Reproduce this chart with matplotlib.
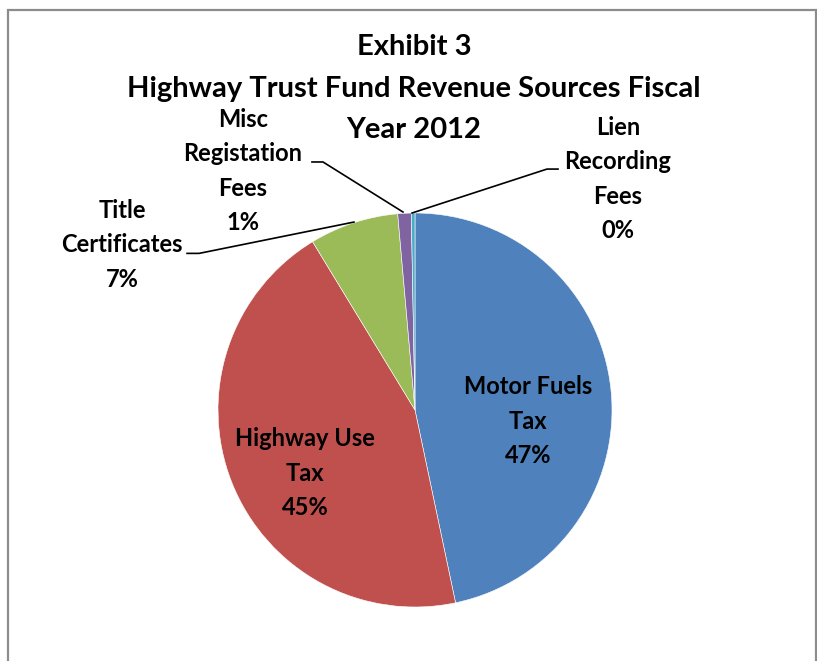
import numpy as np
import matplotlib
matplotlib.use('Agg')
import matplotlib.pyplot as plt
from matplotlib.patches import Rectangle

# Highway Trust Fund revenue shares (%), FY2012, clockwise from 12 o'clock
labels = ["Motor Fuels\nTax", "Highway Use\nTax", "Title\nCertificates",
          "Misc\nRegistation\nFees", "Lien\nRecording\nFees"]
shares = [46.7, 44.6, 7.3, 1.1, 0.3]
pct_text = ["47%", "45%", "7%", "1%", "0%"]
colors = ["#4F81BD", "#C0504D", "#9BBB59", "#8064A2", "#4BACC6"]
title_lines = ["Exhibit 3", "Highway Trust Fund Revenue Sources Fiscal", "Year 2012"]

# label placement (data coords, pie radius = 1)
label_pos = [(0.574, -0.056), (-0.558, -0.32), (-1.487, 0.838),
             (-0.873, 1.213), (1.030, 1.173)]
# leader lines for the outside labels: text end, elbow, wedge edge
leaders = {
    2: [(-1.157, 0.795), (-1.096, 0.795), (-0.310, 0.954)],
    3: [(-0.523, 1.259), (-0.467, 1.259), (-0.061, 1.005)],
    4: [(0.726, 1.223), (0.670, 1.223), (-0.015, 1.000)],
}

plt.rcParams['font.family'] = ['Lato', 'DejaVu Sans']

W, H = 817, 661
fig = plt.figure(figsize=(W / 100, H / 100), dpi=100)
fig.patch.set_facecolor('white')

# chart frame
fig.patches.append(Rectangle((8 / W, -0.05), (W - 1.5 - 8) / W, 1.05 - 10 / H,
                             transform=fig.transFigure, fill=False,
                             edgecolor='#8c8c8c', linewidth=1.6))

cx, cy, r = 415, 410, 197
ax = fig.add_axes([(cx - r) / W, (H - cy - r) / H, 2 * r / W, 2 * r / H])
ax.pie(shares, colors=colors, startangle=90, counterclock=False, radius=1,
       wedgeprops=dict(linewidth=0.4, edgecolor='white'))
ax.set_xlim(-1, 1)
ax.set_ylim(-1, 1)
ax.set_aspect('equal')
ax.axis('off')

for i, (lab, pct) in enumerate(zip(labels, pct_text)):
    x, y = label_pos[i]
    ax.text(x, y, f"{lab}\n{pct}", ha='center', va='center', fontsize=17,
            fontweight='bold', linespacing=1.6, clip_on=False)

for pts in leaders.values():
    xs, ys = zip(*pts)
    ax.plot(xs, ys, color='black', lw=1.2, clip_on=False)

# title, one text per line
for line, ypx in zip(title_lines, [47, 89, 130]):
    fig.text(414 / W, 1 - ypx / H, line, ha='center', va='center',
             fontsize=21, fontweight='bold')

fig.savefig("out.png", dpi=100)
